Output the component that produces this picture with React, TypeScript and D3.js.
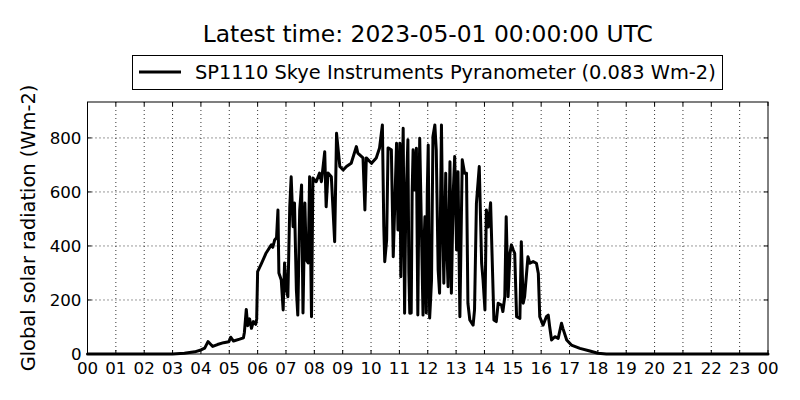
import * as d3 from "d3";

// Readings through the day (UTC)
const times = [
  "00:00", "03:00", "03:25", "03:47", "04:00", "04:08", "04:15", "04:25", "04:35", "04:48",
  "04:59", "05:03", "05:09", "05:22", "05:30", "05:32", "05:36", "05:39", "05:43", "05:47",
  "05:51", "05:56", "05:58", "06:00", "06:08", "06:18", "06:29", "06:32", "06:36", "06:40",
  "06:43", "06:45", "06:50", "06:54", "06:57", "07:01", "07:04", "07:08", "07:11", "07:15",
  "07:18", "07:22", "07:25", "07:29", "07:33", "07:36", "07:40", "07:43", "07:47", "07:50",
  "07:54", "07:57", "08:04", "08:11", "08:15", "08:22", "08:25", "08:29", "08:36", "08:43",
  "08:47", "08:54", "09:01", "09:08", "09:18", "09:29", "09:32", "09:43", "09:47", "09:50",
  "10:01", "10:11", "10:18", "10:24", "10:27", "10:29", "10:33", "10:36", "10:43", "10:47",
  "10:54", "10:57", "11:01", "11:03", "11:08", "11:11", "11:13", "11:15", "11:18", "11:20",
  "11:22", "11:25", "11:27", "11:29", "11:32", "11:34", "11:36", "11:39", "11:41", "11:43",
  "11:46", "11:48", "11:50", "11:52", "11:54", "11:57", "11:59", "12:01", "12:04", "12:06",
  "12:08", "12:11", "12:15", "12:18", "12:22", "12:25", "12:29", "12:31", "12:34", "12:36",
  "12:38", "12:40", "12:43", "12:47", "12:50", "12:54", "12:57", "13:01", "13:04", "13:08",
  "13:13", "13:18", "13:22", "13:25", "13:29", "13:36", "13:39", "13:43", "13:49", "13:54",
  "13:57", "14:01", "14:04", "14:08", "14:13", "14:17", "14:20", "14:25", "14:29", "14:36",
  "14:39", "14:43", "14:46", "14:50", "14:54", "14:57", "15:01", "15:04", "15:08", "15:15",
  "15:18", "15:22", "15:25", "15:32", "15:36", "15:43", "15:50", "15:54", "15:57", "16:04",
  "16:11", "16:15", "16:18", "16:22", "16:29", "16:36", "16:43", "16:46", "16:54", "17:04",
  "17:22", "17:43", "18:00", "18:18", "24:00",
];

const radiation = [
  0, 0, 3, 8, 15, 22, 46, 28, 35, 42,
  45, 62, 48, 55, 60, 80, 165, 105, 130, 95,
  120, 110, 130, 305, 335, 374, 404, 395, 422, 430,
  533, 300, 274, 163, 337, 237, 212, 545, 656, 471,
  559, 237, 144, 533, 626, 152, 559, 348, 337, 656,
  138, 652, 638, 670, 638, 749, 545, 670, 656, 416,
  817, 694, 681, 694, 706, 768, 744, 726, 533, 726,
  706, 726, 763, 848, 471, 342, 422, 763, 756, 360,
  780, 459, 780, 286, 836, 151, 470, 620, 793, 300,
  151, 152, 600, 756, 607, 700, 762, 144, 520, 799,
  522, 330, 144, 400, 508, 152, 600, 774, 133, 200,
  274, 805, 848, 756, 311, 225, 848, 560, 262, 450,
  669, 420, 249, 712, 225, 600, 731, 385, 675, 138,
  719, 669, 669, 188, 126, 107, 163, 558, 694, 336,
  274, 163, 533, 470, 560, 311, 126, 120, 188, 181,
  157, 212, 508, 212, 373, 404, 385, 373, 138, 132,
  416, 188, 212, 360, 336, 342, 336, 298, 138, 107,
  138, 144, 101, 52, 64, 58, 114, 95, 52, 33,
  21, 11, 3, 0, 0,
];

const hourTicks = d3.range(0, 25);
const yTicks = [0, 200, 400, 600, 800];

const title = "Latest time: 2023-05-01 00:00:00 UTC";
const seriesName = "SP1110 Skye Instruments Pyranometer (0.083 Wm-2)";
const yLabel = "Global solar radiation (Wm-2)";

const toHours = (t: string) => {
  const [h, m] = t.split(":").map(Number);
  return h + m / 60;
};

export default function App() {
  const width = 800;
  const height = 400;
  const margin = { top: 102, right: 32, bottom: 46, left: 87.5 };
  const font = "'DejaVu Sans', sans-serif";

  const x = d3.scaleLinear().domain([0, 24]).range([margin.left, width - margin.right]);
  const y = d3.scaleLinear().domain([0, 933]).range([height - margin.bottom, margin.top]);

  const points: [number, number][] = times.map((t, i) => [toHours(t), radiation[i]]);

  const line = d3
    .line<[number, number]>()
    .x((d) => x(d[0]))
    .y((d) => y(d[1]));

  const [x0, x1] = x.range();
  const [y0, y1] = y.range();
  const cx = (x0 + x1) / 2;
  const cy = (y0 + y1) / 2;

  return (
    <svg
      width={width}
      height={height}
      style={{ position: "absolute", left: 0, top: 0, background: "#fff" }}
      fontFamily={font}
    >
      <rect x={0} y={0} width={width} height={height} fill="#fff" />

      {/* grid */}
      <g stroke="#000" strokeWidth={0.8} strokeDasharray="1,3">
        {hourTicks.slice(1, -1).map((h) => (
          <line key={"gx" + h} x1={x(h)} x2={x(h)} y1={y1} y2={y0} />
        ))}
        {yTicks.slice(1).map((v) => (
          <line key={"gy" + v} x1={x0} x2={x1} y1={y(v)} y2={y(v)} />
        ))}
      </g>

      {/* inside ticks on all sides */}
      <g stroke="#000" strokeWidth={1}>
        {hourTicks.map((h) => (
          <g key={"tx" + h}>
            <line x1={x(h)} x2={x(h)} y1={y0} y2={y0 - 4} />
            <line x1={x(h)} x2={x(h)} y1={y1} y2={y1 + 4} />
          </g>
        ))}
        {yTicks.map((v) => (
          <g key={"ty" + v}>
            <line x1={x0} x2={x0 + 4} y1={y(v)} y2={y(v)} />
            <line x1={x1} x2={x1 - 4} y1={y(v)} y2={y(v)} />
          </g>
        ))}
      </g>

      {/* data line */}
      <path
        d={line(points) ?? ""}
        fill="none"
        stroke="#000"
        strokeWidth={3}
        strokeLinejoin="round"
        strokeLinecap="round"
      />

      {/* frame */}
      <rect x={x0} y={y1} width={x1 - x0} height={y0 - y1} fill="none" stroke="#000" strokeWidth={1} />

      {/* tick labels */}
      <g fontSize={16.7} fill="#000">
        {hourTicks.map((h) => (
          <text key={"lx" + h} x={x(h)} y={374} textAnchor="middle">
            {String(h % 24).padStart(2, "0")}
          </text>
        ))}
        {yTicks.map((v) => (
          <text key={"ly" + v} x={x0 - 6} y={y(v)} dy="0.36em" textAnchor="end">
            {v}
          </text>
        ))}
      </g>

      {/* y label */}
      <text
        transform={`translate(35,${cy}) rotate(-90)`}
        textAnchor="middle"
        fontSize={19.4}
        fill="#000"
      >
        {yLabel}
      </text>

      {/* title */}
      <text x={cx} y={42} textAnchor="middle" fontSize={23.4} fill="#000">
        {title}
      </text>

      {/* legend */}
      <g>
        <rect x={132.5} y={55.5} width={590} height={34} fill="#fff" stroke="#000" strokeWidth={1} />
        <line x1={139} x2={181} y1={72} y2={72} stroke="#000" strokeWidth={3} />
        <text x={195} y={79} fontSize={19.4} fill="#000">
          {seriesName}
        </text>
      </g>
    </svg>
  );
}
